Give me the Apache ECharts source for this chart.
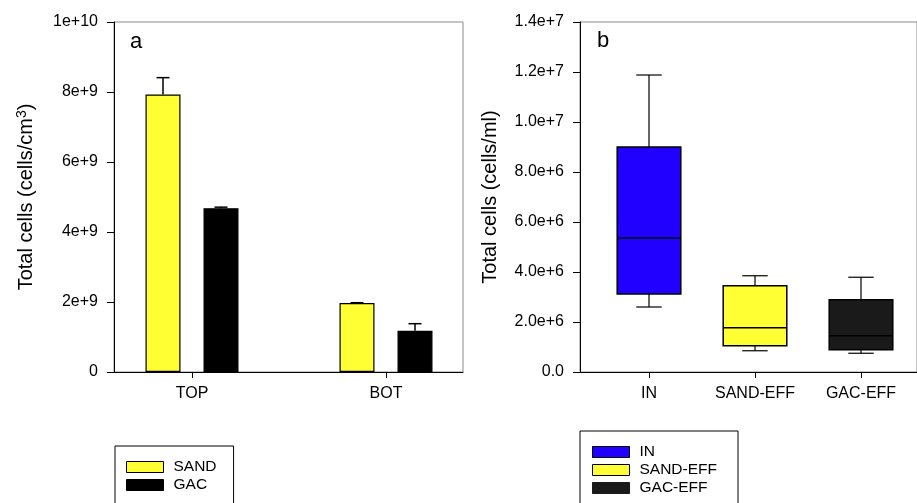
<!DOCTYPE html>
<html>
<head>
<meta charset="utf-8">
<script src="https://cdn.jsdelivr.net/npm/echarts/dist/echarts.min.js"></script>
<style>
html,body{margin:0;padding:0;background:#fff;}
#chart{width:917px;height:503px;}
</style>
</head>
<body>
<div id="chart"></div>
<script>
// ---- Panel a data ----
const categoriesA = ['TOP', 'BOT'];
const sandMean = [7.93e9, 1.97e9];
const sandErr  = [0.48e9, 0.01e9];
const gacMean  = [4.68e9, 1.18e9];
const gacErr   = [0.03e9, 0.20e9];
const yTicksA = { min: 0, max: 1e10, interval: 2e9 };

// ---- Panel b data (box plots: min, q1, median, q3, max) ----
const categoriesB = ['IN', 'SAND-EFF', 'GAC-EFF'];
const boxIN      = [2.60e6, 3.12e6, 5.36e6, 9.00e6, 1.188e7];
const boxSANDEFF = [0.85e6, 1.05e6, 1.77e6, 3.45e6, 3.85e6];
const boxGACEFF  = [0.75e6, 0.89e6, 1.45e6, 2.89e6, 3.79e6];
const yTicksB = { min: 0, max: 1.4e7, interval: 2e6 };

const FONT = "'Liberation Sans', Arial, sans-serif";
const YELLOW = '#ffff33';
const BLUE = '#2200ff';
const BARW = 35, BARGAP = 23;
const OFFSET = (BARW + BARGAP) / 2;

function sci(v, dec) {
  if (v === 0) return dec ? (0).toFixed(dec) : '0';
  const e = Math.floor(Math.log10(v) + 1e-9);
  const m = v / Math.pow(10, e);
  return (dec ? m.toFixed(dec) : String(Math.round(m * 10) / 10)) + 'e+' + e;
}

function makeErr(side) {
  return function (params, api) {
    const c = api.value(0), m = api.value(1), e = api.value(2);
    const p0 = api.coord([c, m]);
    const p1 = api.coord([c, m + e]);
    const x = p0[0] + side * OFFSET;
    return {
      type: 'group',
      children: [
        { type: 'line', shape: { x1: x, y1: p0[1], x2: x, y2: p1[1] }, style: { stroke: '#000', lineWidth: 1.5 } },
        { type: 'line', shape: { x1: x - 6.5, y1: p1[1], x2: x + 6.5, y2: p1[1] }, style: { stroke: '#000', lineWidth: 1.5 } }
      ]
    };
  };
}

function renderBox(params, api) {
  const c = api.value(0);
  const band = api.size([1, 0])[0];
  const bw = band * 0.6, cw = band * 0.24;
  const pMin = api.coord([c, api.value(1)]);
  const pQ1 = api.coord([c, api.value(2)]);
  const pMed = api.coord([c, api.value(3)]);
  const pQ3 = api.coord([c, api.value(4)]);
  const pMax = api.coord([c, api.value(5)]);
  const x = pMin[0];
  const ln = (x1, y1, x2, y2, w) => ({ type: 'line', shape: { x1, y1, x2, y2 }, style: { stroke: '#000', lineWidth: w } });
  return {
    type: 'group',
    children: [
      ln(x, pQ3[1], x, pMax[1], 1.2),
      ln(x - cw / 2, pMax[1], x + cw / 2, pMax[1], 1.2),
      ln(x, pQ1[1], x, pMin[1], 1.2),
      ln(x - cw / 2, pMin[1], x + cw / 2, pMin[1], 1.2),
      { type: 'rect', shape: { x: x - bw / 2, y: pQ3[1], width: bw, height: pQ1[1] - pQ3[1] },
        style: { fill: api.visual('color'), stroke: '#000', lineWidth: 1.5 } },
      ln(x - bw / 2, pMed[1], x + bw / 2, pMed[1], 1.5)
    ]
  };
}

const axisLabelStyle = { color: '#000', fontFamily: FONT, fontSize: 16 };
const blackLine = { show: true, lineStyle: { color: '#000', width: 1 } };

const option = {
  animation: false,
  backgroundColor: '#fff',
  grid: [
    { left: 114, top: 22, width: 349, height: 350, show: true, borderColor: '#8a8a8a', borderWidth: 1, backgroundColor: 'transparent' },
    { left: 95, top: 22, width: 388, height: 350 },
    { left: 580, top: 22, width: 350, height: 350, show: true, borderColor: '#8a8a8a', borderWidth: 1, backgroundColor: 'transparent' },
    { left: 596, top: 22, width: 318, height: 350 }
  ],
  xAxis: [
    { gridIndex: 0, type: 'value', min: 0, max: 1, axisLine: blackLine, axisTick: { show: false }, axisLabel: { show: false }, splitLine: { show: false } },
    { gridIndex: 1, type: 'category', data: categoriesA, axisLine: { show: false },
      axisTick: { show: true, alignWithLabel: true, length: 6, lineStyle: { color: '#000' } },
      axisLabel: Object.assign({ margin: 14 }, axisLabelStyle) },
    { gridIndex: 2, type: 'value', min: 0, max: 1, axisLine: blackLine, axisTick: { show: false }, axisLabel: { show: false }, splitLine: { show: false } },
    { gridIndex: 3, type: 'category', data: categoriesB, axisLine: { show: false },
      axisTick: { show: true, alignWithLabel: true, length: 6, lineStyle: { color: '#000' } },
      axisLabel: Object.assign({ margin: 14 }, axisLabelStyle) }
  ],
  yAxis: [
    { gridIndex: 0, type: 'value', min: yTicksA.min, max: yTicksA.max, interval: yTicksA.interval,
      axisLine: blackLine, axisTick: { show: true, length: 7, lineStyle: { color: '#000' } },
      axisLabel: Object.assign({ margin: 16, formatter: v => sci(v, 0) }, axisLabelStyle),
      splitLine: { show: false },
      name: '{t|Total cells (cells/cm}{s|3}{t|)}', nameLocation: 'middle', nameGap: 76,
      nameTextStyle: { rich: {
        t: { fontFamily: FONT, fontSize: 20, color: '#000', lineHeight: 23 },
        s: { fontFamily: FONT, fontSize: 14, color: '#000', verticalAlign: 'top', lineHeight: 23 }
      } } },
    { gridIndex: 1, type: 'value', min: yTicksA.min, max: yTicksA.max, show: false, splitLine: { show: false } },
    { gridIndex: 2, type: 'value', min: yTicksB.min, max: yTicksB.max, interval: yTicksB.interval,
      axisLine: blackLine, axisTick: { show: true, length: 7, lineStyle: { color: '#000' } },
      axisLabel: Object.assign({ margin: 16, formatter: v => sci(v, 1) }, axisLabelStyle),
      splitLine: { show: false },
      name: 'Total cells (cells/ml)', nameLocation: 'middle', nameGap: 80,
      nameTextStyle: { fontFamily: FONT, fontSize: 20, color: '#000' } },
    { gridIndex: 3, type: 'value', min: yTicksB.min, max: yTicksB.max, show: false, splitLine: { show: false } }
  ],
  legend: [
    { orient: 'vertical', left: 115, top: 446, height: 80, padding: [12, 17, 20, 11], itemWidth: 37, itemHeight: 11, itemGap: 0,
      borderColor: '#000', borderWidth: 1, selectedMode: false, icon: 'rect',
      textStyle: { fontFamily: FONT, fontSize: 15.5, color: '#000', lineHeight: 18, padding: [0, 0, 0, 5] },
      data: [
        { name: 'SAND', itemStyle: { color: YELLOW, borderColor: '#000', borderWidth: 1 } },
        { name: 'GAC', itemStyle: { color: '#000', borderColor: '#000', borderWidth: 1 } }
      ] },
    { orient: 'vertical', left: 580, top: 431, height: 80, padding: [12, 21, 20, 12], itemWidth: 37, itemHeight: 11, itemGap: 0,
      borderColor: '#000', borderWidth: 1, selectedMode: false, icon: 'rect',
      textStyle: { fontFamily: FONT, fontSize: 15.5, color: '#000', lineHeight: 18, padding: [0, 0, 0, 5] },
      data: [
        { name: 'IN', itemStyle: { color: BLUE, borderColor: '#000', borderWidth: 1 } },
        { name: 'SAND-EFF', itemStyle: { color: YELLOW, borderColor: '#000', borderWidth: 1 } },
        { name: 'GAC-EFF', itemStyle: { color: '#1a1a1a', borderColor: '#1a1a1a', borderWidth: 1 } }
      ] }
  ],
  graphic: [
    { type: 'text', x: 130, y: 42, style: { text: 'a', font: '22px ' + FONT, fill: '#000', verticalAlign: 'middle' } },
    { type: 'text', x: 597, y: 41, style: { text: 'b', font: '22px ' + FONT, fill: '#000', verticalAlign: 'middle' } }
  ],
  series: [
    { name: 'SAND', type: 'bar', xAxisIndex: 1, yAxisIndex: 1, data: sandMean, barWidth: BARW, barGap: (BARGAP / BARW * 100) + '%',
      itemStyle: { color: YELLOW, borderColor: '#000', borderWidth: 1.2 } },
    { name: 'GAC', type: 'bar', xAxisIndex: 1, yAxisIndex: 1, data: gacMean, barWidth: BARW, barGap: (BARGAP / BARW * 100) + '%',
      itemStyle: { color: '#000', borderColor: '#000', borderWidth: 1.2 } },
    { name: 'SAND err', type: 'custom', xAxisIndex: 1, yAxisIndex: 1, renderItem: makeErr(-1), z: 5,
      data: categoriesA.map((c, i) => [i, sandMean[i], sandErr[i]]) },
    { name: 'GAC err', type: 'custom', xAxisIndex: 1, yAxisIndex: 1, renderItem: makeErr(1), z: 5,
      data: categoriesA.map((c, i) => [i, gacMean[i], gacErr[i]]) },
    { name: 'IN', type: 'custom', xAxisIndex: 3, yAxisIndex: 3, renderItem: renderBox, itemStyle: { color: BLUE },
      encode: { x: 0, y: [1, 2, 3, 4, 5] }, data: [[0].concat(boxIN)] },
    { name: 'SAND-EFF', type: 'custom', xAxisIndex: 3, yAxisIndex: 3, renderItem: renderBox, itemStyle: { color: YELLOW },
      encode: { x: 0, y: [1, 2, 3, 4, 5] }, data: [[1].concat(boxSANDEFF)] },
    { name: 'GAC-EFF', type: 'custom', xAxisIndex: 3, yAxisIndex: 3, renderItem: renderBox, itemStyle: { color: '#1a1a1a' },
      encode: { x: 0, y: [1, 2, 3, 4, 5] }, data: [[2].concat(boxGACEFF)] }
  ]
};

const chart = echarts.init(document.getElementById('chart'), null, { renderer: 'canvas' });
chart.setOption(option);
</script>
</body>
</html>
